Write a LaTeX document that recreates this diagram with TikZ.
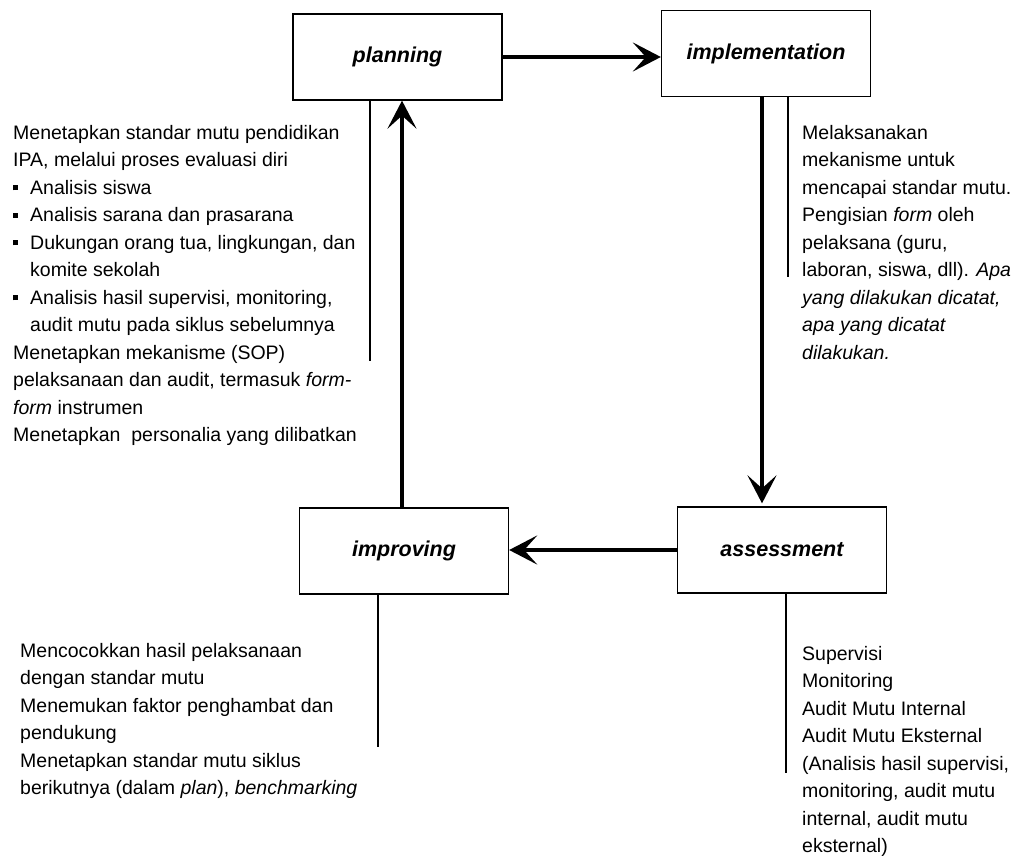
\documentclass[tikz,border=0pt]{standalone}
\usepackage{fontspec}
\setmainfont{Liberation Sans}
\usetikzlibrary{arrows.meta}
\begin{document}
\begin{tikzpicture}[x=1pt,y=-1pt,
  stagebox/.style={draw,line width=1.3pt,minimum width=209pt,minimum height=86pt,inner sep=0pt,
    font=\fontsize{21.5}{24}\selectfont\bfseries\itshape},
  flowarrow/.style={line width=4pt,-{Stealth[length=28pt,width=29pt,inset=13pt]}},
  leader/.style={line width=1.3pt},
  notes/.style={anchor=north west,inner sep=0pt,align=left,font=\fontsize{19.5}{27.5}\selectfont},
]
\useasboundingbox (0,0) rectangle (1017,856);
\newcommand{\blt}{\makebox[17pt][l]{\rule[4pt]{5pt}{5pt}}}
\newcommand{\bind}{\hspace*{17pt}}

\node[stagebox] (planning) at (397.5,57) {planning};
\node[stagebox] (impl) at (766,53.5) {implementation};
\node[stagebox] (improving) at (404,551) {improving};
\node[stagebox] (assess) at (782,550) {assessment};

\draw[flowarrow] (planning.east) -- (planning.east -| impl.west);
\draw[flowarrow,shorten >=3pt] (impl.south -| 762,0) -- (assess.north -| 762,0);
\draw[flowarrow] (assess.west) -- (assess.west -| improving.east);
\draw[flowarrow] (improving.north -| 402,0) -- (planning.south -| 402,0);

\coordinate (pl) at (370,361);
\coordinate (il) at (788,277);
\coordinate (rl) at (378,747);
\coordinate (al) at (786,773);
\draw[leader] (pl |- planning.south) -- (pl);
\draw[leader] (il |- impl.south) -- (il);
\draw[leader] (rl |- improving.south) -- (rl);
\draw[leader] (al |- assess.south) -- (al);

\node[notes] (plantext) at (13,125) {Menetapkan standar mutu pendidikan\\
IPA, melalui proses evaluasi diri\\
\blt Analisis siswa\\
\blt Analisis sarana dan prasarana\\
\blt Dukungan orang tua, lingkungan, dan\\
\bind komite sekolah\\
\blt Analisis hasil supervisi, monitoring,\\
\bind audit mutu pada siklus sebelumnya\\
Menetapkan mekanisme (SOP)\\
pelaksanaan dan audit, termasuk \textit{form-}\\
\textit{form} instrumen\\
Menetapkan\ \ personalia yang dilibatkan};

\node[notes] (impltext) at (802,125) {Melaksanakan\\
mekanisme untuk\\
mencapai standar mutu.\\
Pengisian \textit{form} oleh\\
pelaksana (guru,\\
laboran, siswa, dll). \textit{Apa}\\
\textit{yang dilakukan dicatat,}\\
\textit{apa yang dicatat}\\
\textit{dilakukan.}};

\node[notes] (imprtext) at (20,643) {Mencocokkan hasil pelaksanaan\\
dengan standar mutu\\
Menemukan faktor penghambat dan\\
pendukung\\
Menetapkan standar mutu siklus\\
berikutnya (dalam \textit{plan}), \textit{benchmarking}};

\node[notes] (asstext) at (802,646) {Supervisi\\
Monitoring\\
Audit Mutu Internal\\
Audit Mutu Eksternal\\
(Analisis hasil supervisi,\\
monitoring, audit mutu\\
internal, audit mutu\\
eksternal)};
\end{tikzpicture}
\end{document}
